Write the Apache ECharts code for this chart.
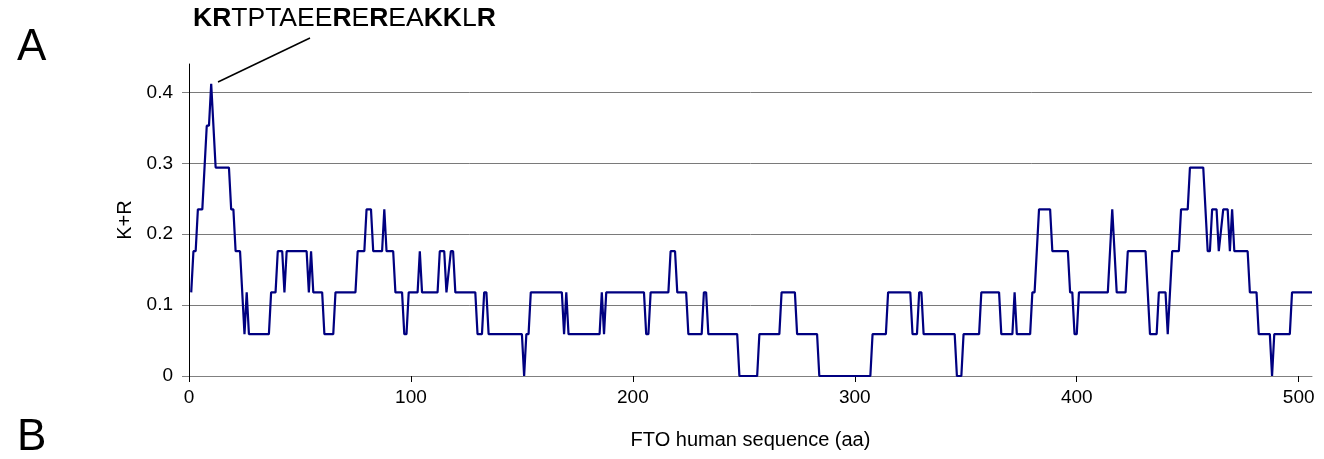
<!DOCTYPE html>
<html lang="en" style="height: 100%">
<head>
  <meta charset="utf-8">
</head>
<body style="height: 100%; margin: 0; background: #fff">
<div id="container" style="height: 100%"></div>

<script type="text/javascript" src="https://fastly.jsdelivr.net/npm/echarts@6/dist/echarts.min.js"></script>
<script type="text/javascript">
  // corners of the K+R trace (window of 17 aa)
  var residue = [
    1, 2, 3, 4, 6, 8, 9, 10, 12, 18, 19, 20, 21, 23, 25, 26, 27, 36, 37, 39,
    40, 42, 43, 44, 53, 54, 55, 56, 60, 61, 65, 66, 75, 76, 79, 80, 82, 83, 87, 88,
    89, 92, 93, 96, 97, 98, 99, 103, 104, 105, 112, 113, 115, 116, 118, 119, 120, 129, 130, 132,
    133, 134, 135, 150, 151, 152, 153, 154, 168, 169, 170, 171, 185, 186, 187, 188, 205, 206, 207, 208,
    216, 217, 219, 220, 224, 225, 231, 232, 233, 234, 247, 248, 256, 257, 266, 267, 273, 274, 283, 284,
    307, 308, 314, 315, 325, 326, 328, 329, 330, 331, 345, 346, 348, 349, 356, 357, 365, 366, 371, 372,
    373, 379, 380, 381, 383, 388, 389, 396, 397, 398, 399, 400, 401, 414, 416, 418, 422, 423, 431, 433,
    436, 437, 440, 441, 443, 446, 447, 450, 451, 457, 459, 460, 461, 463, 464, 466, 468, 469, 470, 471,
    477, 478, 481, 482, 487, 488, 489, 496, 497, 506
  ];
  var krFraction = [
    0.118, 0.176, 0.176, 0.235, 0.235, 0.353, 0.353, 0.412, 0.294, 0.294, 0.235, 0.235, 0.176, 0.176, 0.059, 0.118, 0.059, 0.059, 0.118, 0.118,
    0.176, 0.176, 0.118, 0.176, 0.176, 0.118, 0.176, 0.118, 0.118, 0.059, 0.059, 0.118, 0.118, 0.176, 0.176, 0.235, 0.235, 0.176, 0.176, 0.235,
    0.176, 0.176, 0.118, 0.118, 0.059, 0.059, 0.118, 0.118, 0.176, 0.118, 0.118, 0.176, 0.176, 0.118, 0.176, 0.176, 0.118, 0.118, 0.059, 0.059,
    0.118, 0.118, 0.059, 0.059, 0, 0.059, 0.059, 0.118, 0.118, 0.059, 0.118, 0.059, 0.059, 0.118, 0.059, 0.118, 0.118, 0.059, 0.059, 0.118,
    0.118, 0.176, 0.176, 0.118, 0.118, 0.059, 0.059, 0.118, 0.118, 0.059, 0.059, 0, 0, 0.059, 0.059, 0.118, 0.118, 0.059, 0.059, 0,
    0, 0.059, 0.059, 0.118, 0.118, 0.059, 0.059, 0.118, 0.118, 0.059, 0.059, 0, 0, 0.059, 0.059, 0.118, 0.118, 0.059, 0.059, 0.118,
    0.059, 0.059, 0.118, 0.118, 0.235, 0.235, 0.176, 0.176, 0.118, 0.118, 0.059, 0.059, 0.118, 0.118, 0.235, 0.118, 0.118, 0.176, 0.176, 0.059,
    0.059, 0.118, 0.118, 0.059, 0.176, 0.176, 0.235, 0.235, 0.294, 0.294, 0.176, 0.176, 0.235, 0.235, 0.176, 0.235, 0.235, 0.176, 0.235, 0.176,
    0.176, 0.118, 0.118, 0.059, 0.059, 0, 0.059, 0.059, 0.118, 0.118
  ];
  var xTicks = [0, 100, 200, 300, 400, 500];
  var yTicks = [0, 0.1, 0.2, 0.3, 0.4];
  // bold letters are the K and R residues of the peak window
  var peakMotif = '{b|KR}TPTAEE{b|R}E{b|R}EA{b|KK}L{b|R}';

  var font = 'Liberation Sans, Arial, sans-serif';
  var dom = document.getElementById('container');
  var myChart = echarts.init(dom, null, { renderer: 'canvas' });

  var trace = residue.map(function (x, i) {
    return [x, krFraction[i]];
  });

  var option = {
    animation: false,
    backgroundColor: '#fff',
    textStyle: { fontFamily: font },
    grid: { left: 189, right: 12, top: 64, bottom: 83 },
    xAxis: {
      type: 'value',
      min: 0,
      max: 506,
      name: 'FTO human sequence (aa)',
      nameLocation: 'middle',
      nameGap: 54,
      nameTextStyle: { fontSize: 20, color: '#000', fontFamily: font },
      axisLine: { onZero: false, lineStyle: { color: '#808080', width: 1 } },
      axisTick: { show: true, customValues: xTicks, length: 6, lineStyle: { color: '#000' } },
      axisLabel: { customValues: xTicks, fontSize: 19, color: '#000', margin: 12, fontFamily: font },
      splitLine: { show: false }
    },
    yAxis: {
      type: 'value',
      min: 0,
      max: 0.44,
      name: 'K+R',
      nameLocation: 'middle',
      nameGap: 54,
      nameTextStyle: { fontSize: 20, color: '#000', fontFamily: font },
      axisLine: { show: true, onZero: false, lineStyle: { color: '#000', width: 1 } },
      axisTick: { show: true, customValues: yTicks, length: 7, lineStyle: { color: '#808080' } },
      axisLabel: { customValues: yTicks, fontSize: 19, color: '#000', margin: 16, fontFamily: font },
      splitLine: { show: true, lineStyle: { color: '#7a7a7a', width: 1 } }
    },
    series: [
      {
        type: 'line',
        data: trace,
        symbol: 'none',
        lineStyle: { color: '#000080', width: 2.2 }
      }
    ],
    graphic: [
      {
        type: 'text', left: 17, top: 26,
        style: { text: 'A', fontSize: 44, fill: '#000', fontFamily: font }
      },
      {
        type: 'text', left: 17, top: 416,
        style: { text: 'B', fontSize: 44, fill: '#000', fontFamily: font }
      },
      {
        type: 'text', x: 193, y: 19,
        style: {
          text: peakMotif,
          fontSize: 26.5,
          fill: '#000',
          fontFamily: font,
          verticalAlign: 'middle',
          rich: { b: { fontWeight: 'bold', fontSize: 26.5, fill: '#000', fontFamily: font } }
        }
      },
      {
        type: 'line',
        shape: { x1: 218, y1: 82, x2: 310, y2: 38 },
        style: { stroke: '#000', lineWidth: 1.5 }
      }
    ]
  };

  myChart.setOption(option);
  window.addEventListener('resize', myChart.resize);
</script>
</body>
</html>
